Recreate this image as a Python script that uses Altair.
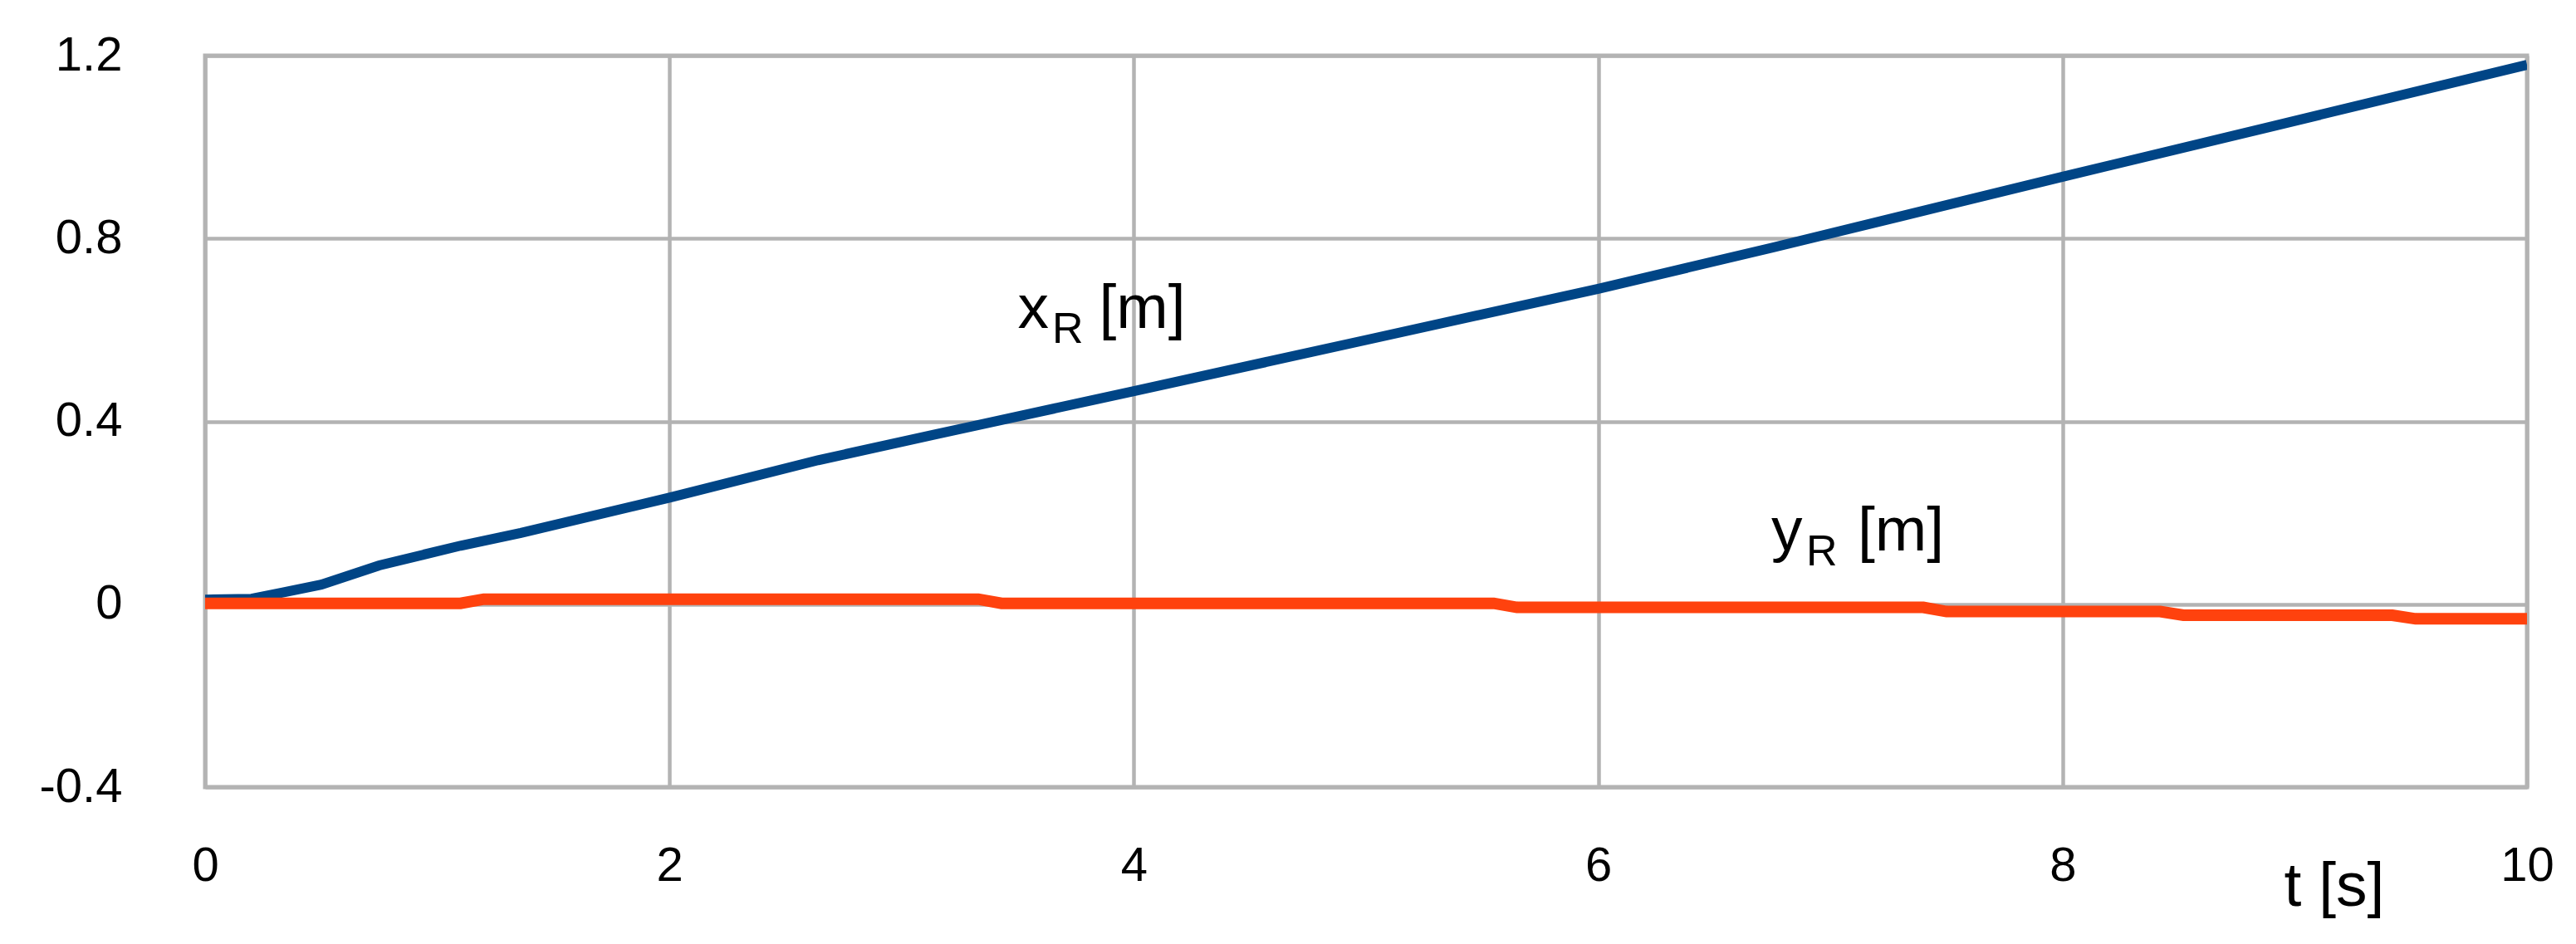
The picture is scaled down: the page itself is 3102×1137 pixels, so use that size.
import altair as alt
import pandas as pd

# ---- data ----
t_x = [0, 0.2, 0.33, 0.5, 0.75, 1.1, 1.36, 2.0, 2.64, 3.15, 4.0, 5.0, 6.0, 6.75, 8.0, 8.9, 10.0]
x_R = [0.01, 0.012, 0.025, 0.043, 0.085, 0.128, 0.156, 0.233, 0.315, 0.372, 0.466, 0.578, 0.69, 0.78, 0.935, 1.045, 1.18]

t_y = [0, 1.1, 1.2, 3.33, 3.43, 5.55, 5.65, 7.4, 7.5, 8.42, 8.52, 9.42, 9.52, 10]
y_R = [0.002, 0.002, 0.011, 0.011, 0.002, 0.002, -0.007, -0.007, -0.016, -0.016, -0.024, -0.024, -0.032, -0.032]

x_ticks = [0, 2, 4, 6, 8, 10]
y_ticks = [-0.4, 0, 0.4, 0.8, 1.2]

ann_text = ["x", "[m]", "y", "[m]"]
ann_t = [3.50, 3.85, 6.745, 7.117]
ann_v = [0.605, 0.605, 0.118, 0.118]
sub_text = ["R", "R"]
sub_t = [3.648, 6.896]
sub_v = [0.571, 0.084]

FONT = "Liberation Sans"
BLUE = "#004586"
ORANGE = "#ff420e"
GRID = "#b3b3b3"

df_x = pd.DataFrame({"t": t_x, "v": x_R})
df_y = pd.DataFrame({"t": t_y, "v": y_R})
df_ann = pd.DataFrame({"t": ann_t, "v": ann_v, "label": ann_text})
df_sub = pd.DataFrame({"t": sub_t, "v": sub_v, "label": sub_text})

xscale = alt.Scale(domain=[0, 10], nice=False, zero=False)
yscale = alt.Scale(domain=[-0.4, 1.2], nice=False, zero=False)

xaxis = alt.Axis(
    values=x_ticks, format="d", grid=True, gridColor=GRID, gridWidth=4.5, domain=False,
    ticks=False, tickSize=0, labelFont=FONT, labelFontSize=58, labelColor="black",
    labelPadding=66, labelFlush=False, labelOverlap=False,
    title="t [s]", titleFont=FONT, titleFontSize=75, titleFontWeight="normal",
    titleColor="black", titleX=2503, titleY=142, titleAlign="left",
    titleBaseline="alphabetic",
)
yaxis = alt.Axis(
    values=y_ticks, grid=True, gridColor=GRID, gridWidth=4.5, domain=False,
    ticks=False, tickSize=0, labelFont=FONT, labelFontSize=58, labelColor="black",
    labelPadding=100, labelFlush=False, labelOverlap=False, title=None,
    labelExpr="datum.value == 0 ? '0' : (datum.value < 0 ? '-' : '') + format(abs(datum.value), '.1f')",
)

blue = alt.Chart(df_x).mark_line(color=BLUE, strokeWidth=12, clip=True).encode(
    x=alt.X("t:Q", scale=xscale, axis=xaxis),
    y=alt.Y("v:Q", scale=yscale, axis=yaxis),
)
orange = alt.Chart(df_y).mark_line(color=ORANGE, strokeWidth=14, clip=True).encode(
    x=alt.X("t:Q", scale=xscale),
    y=alt.Y("v:Q", scale=yscale),
)
ann = alt.Chart(df_ann).mark_text(
    font=FONT, fontSize=75, align="left", baseline="alphabetic", color="black"
).encode(x=alt.X("t:Q", scale=xscale), y=alt.Y("v:Q", scale=yscale), text="label:N")
sub = alt.Chart(df_sub).mark_text(
    font=FONT, fontSize=52, align="left", baseline="alphabetic", color="black"
).encode(x=alt.X("t:Q", scale=xscale), y=alt.Y("v:Q", scale=yscale), text="label:N")

chart = alt.layer(blue, orange, ann, sub).properties(
    width=2796, height=881,
    autosize=alt.AutoSizeParams(type="none"),
    padding={"left": 239, "top": 59, "right": 50, "bottom": 170},
    background="white",
).configure_view(stroke=GRID, strokeWidth=5)

chart.save("out.html", embed_options={"renderer": "svg", "actions": False})
